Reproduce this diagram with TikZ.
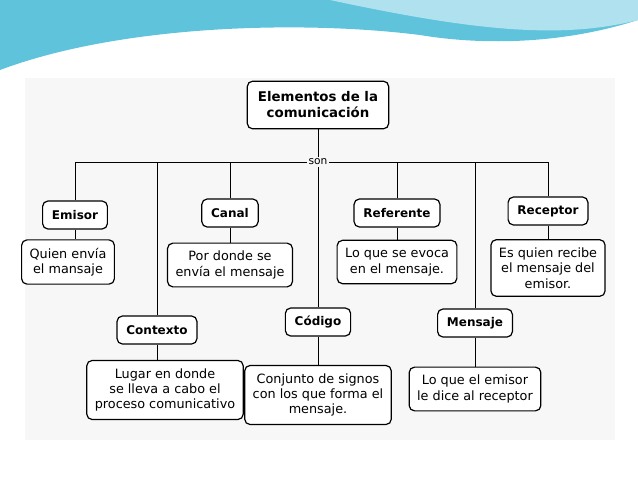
\documentclass[tikz,border=0pt]{standalone}
\usepackage{fontspec}
\setmainfont{DejaVu Sans}
\usetikzlibrary{positioning}
\definecolor{wave}{RGB}{95,195,220}
\definecolor{wavelight}{RGB}{175,225,238}
\tikzset{
    concept/.style={draw,rounded corners=4pt,line width=0.9pt,font=\bfseries\small,align=center,inner xsep=7pt,minimum height=21pt,fill=white},
    desc/.style={draw,rounded corners=4pt,line width=0.9pt,font=\fontsize{9.6}{11.5}\selectfont,align=center,inner xsep=6pt,inner ysep=6pt,fill=white}
}
\begin{document}
\begin{tikzpicture}[x=0.75pt,y=-0.75pt,line width=0.7pt]
            \useasboundingbox (0,0) rectangle (638,479);
            \fill[gray!6] (25,78) rectangle (615,440);
            \fill[wave] (0,0) -- (638,0) -- (638,20) .. controls (560,45) and (480,45) .. (420,35)
                  .. controls (300,20) and (120,25) .. (0,70) -- cycle;
            \fill[wavelight] (330,0) -- (638,0) -- (638,20) .. controls (560,40) and (470,30) .. (330,0);
            \node[concept,font=\bfseries,inner sep=8pt] (elem) at (318,105) {Elementos de la\\ comunicación};
            \node[font=\footnotesize,fill=gray!6,inner sep=1pt] (son) at (318,162) {son};
            \node[concept] (emisor)    at (75,215)  {Emisor};
            \node[concept] (canal)     at (230,213) {Canal};
            \node[concept] (referente) at (397,213) {Referente};
            \node[concept] (receptor)  at (548,211) {Receptor};
            \node[concept] (contexto)  at (157,330) {Contexto};
            \node[concept] (codigo)    at (318,322) {Código};
            \node[concept] (mensaje)   at (475,323) {Mensaje};
            \node[desc] (d_emisor)    at (68,262)  {Quien envía\\ el mansaje};
            \node[desc] (d_canal)     at (230,265) {Por donde se\\ envía el mensaje};
            \node[desc] (d_referente) at (397,262) {Lo que se evoca\\ en el mensaje.};
            \node[desc] (d_receptor)  at (548,268) {Es quien recibe\\ el mensaje del\\ emisor.};
            \node[desc] (d_contexto)  at (165,390) {Lugar en donde\\ se lleva a cabo el\\ proceso comunicativo};
            \node[desc] (d_codigo)    at (318,395) {Conjunto de signos\\ con los que forma el\\ mensaje.};
            \node[desc] (d_mensaje)   at (475,389) {Lo que el emisor\\ le dice al receptor};
            \draw (elem) -- (son);
            \draw (son.west) -| (emisor.north);
            \draw (son.west) -| (contexto.north);
            \draw (son.west) -| (canal.north);
            \draw (son) -- (codigo);
            \draw (son.east) -| (referente.north);
            \draw (son.east) -| (mensaje.north);
            \draw (son.east) -| (receptor.north);
            \draw (emisor) -- (emisor |- d_emisor.north);
            \draw (canal) -- (d_canal);
            \draw (referente) -- (d_referente);
            \draw (receptor) -- (d_receptor);
            \draw (contexto) -- (contexto |- d_contexto.north);
            \draw (codigo) -- (d_codigo);
            \draw (mensaje) -- (d_mensaje);
        \end{tikzpicture}
\end{document}
